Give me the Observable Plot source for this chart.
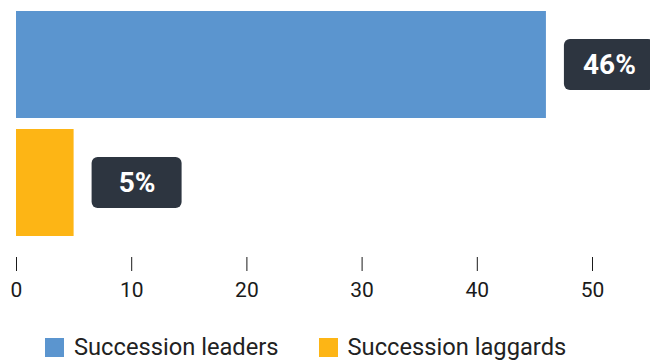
<!DOCTYPE html>
<html>
<head>
<meta charset="utf-8">
<script src="https://cdn.jsdelivr.net/npm/d3@7"></script>
<script src="https://cdn.jsdelivr.net/npm/@observablehq/plot@0.6"></script>
<style>
  html, body { margin: 0; padding: 0; background: #fff; }
  body { width: 650px; height: 360px; overflow: hidden; font-family: Roboto, sans-serif; }
  .legend { display: flex; align-items: center; padding-left: 45px; margin-top: 26px; font-size: 23.7px; color: #222; line-height: 1; }
  .legend .item { display: flex; align-items: center; margin-right: 40px; }
  .legend .sw { width: 19px; height: 19px; margin-right: 10px; }
</style>
</head>
<body>
<div id="chart"></div>
<script>
const categories = ["Succession leaders", "Succession laggards"];
const values = [46, 5];
const colors = ["#5b95cf", "#fdb515"];
const ticks = [0, 10, 20, 30, 40, 50];

const data = categories.map((c, i) => ({category: c, value: values[i]}));

const chart = Plot.plot({
  width: 650,
  height: 310,
  marginLeft: 16,
  marginRight: 58,
  marginTop: 10,
  marginBottom: 53,
  insetBottom: 20,
  style: {fontFamily: "Roboto, sans-serif", fontSize: "21px", color: "#1a1a1a", background: "#fff"},
  x: {domain: [0, 50], ticks: ticks, label: null},
  y: {domain: categories, padding: 0.092, paddingOuter: 0, axis: null},
  color: {domain: categories, range: colors},
  marks: [
    Plot.barX(data, {x: "value", y: "category", fill: "category"}),
    Plot.barX(data, {x1: "value", x2: "value", y: "category", fill: "#2d3540", insetLeft: 18, insetRight: -108, insetTop: 28, insetBottom: 28, rx: 6}),
    Plot.text(data, {x: "value", y: "category", text: d => d.value + "%", dx: 63, fill: "#fff", fontSize: 28, fontWeight: "bold"}),
    Plot.axisX({ticks: ticks, tickSize: 14, tickPadding: 11, tickFormat: d => d, fontSize: 21, label: null})
  ]
});
document.getElementById("chart").appendChild(chart);

const legend = document.createElement("div");
legend.className = "legend";
categories.forEach((c, i) => {
  const item = document.createElement("div");
  item.className = "item";
  const sw = document.createElement("div");
  sw.className = "sw";
  sw.style.background = colors[i];
  const t = document.createElement("span");
  t.textContent = c;
  item.appendChild(sw);
  item.appendChild(t);
  legend.appendChild(item);
});
document.body.appendChild(legend);
</script>
</body>
</html>
